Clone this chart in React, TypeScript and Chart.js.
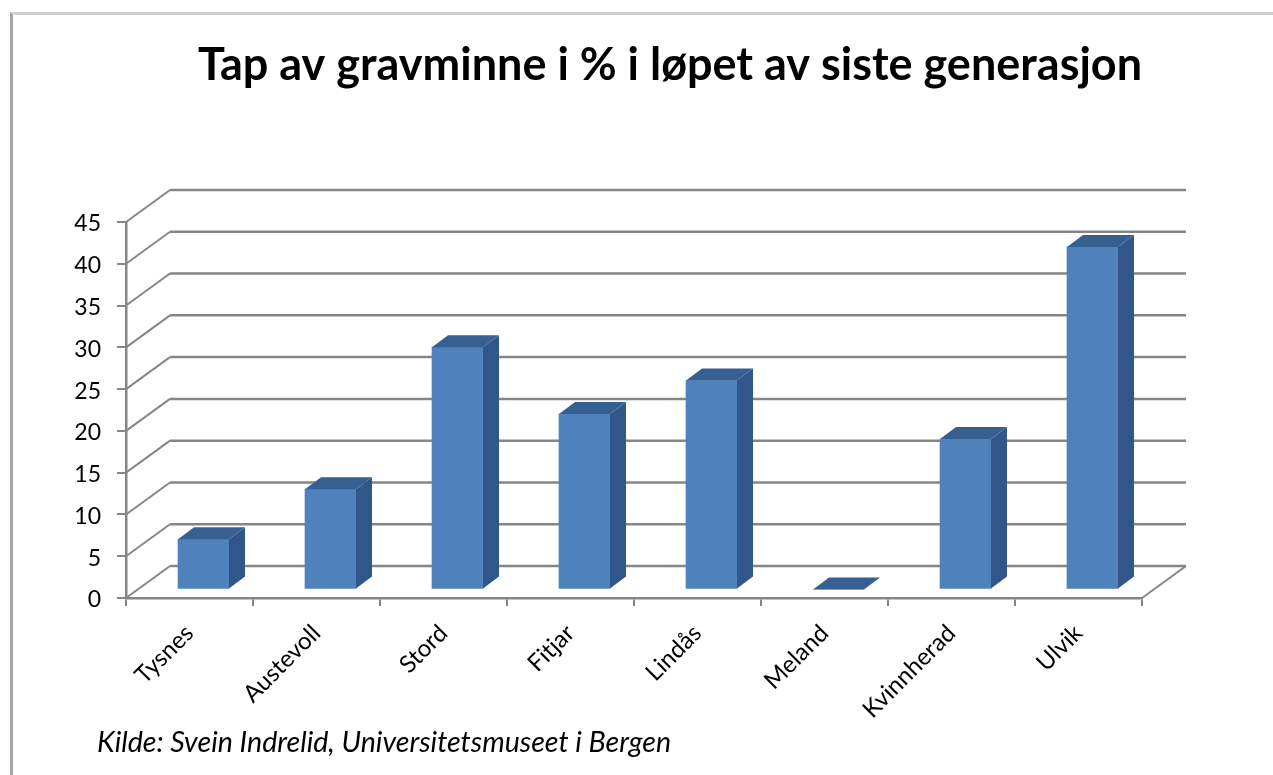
import React, { useEffect, useRef } from "react";
import { Chart, registerables } from "chart.js";

Chart.register(...registerables);

const categories = ["Tysnes", "Austevoll", "Stord", "Fitjar", "Lindås", "Meland", "Kvinnherad", "Ulvik"];
const lossPercent = [6, 12, 29, 21, 25, 0, 18, 41];
const titleText = "Tap av gravminne i % i løpet av siste generasjon";
const sourceText = "Kilde: Svein Indrelid, Universitetsmuseet i Bergen";

const GRID = "#868686";
const FRONT = "#4F81BD";
const SIDE = "#31568A";
const TOP = "#376092";
const WALL_DX = 44;
const WALL_DY = -32;
const BAR_DX = 14;
const BAR_DY = -8.5;
const DEPTH_DX = 16;
const DEPTH_DY = -12;

const poly = (ctx: CanvasRenderingContext2D, pts: number[][], fill: string) => {
  ctx.beginPath();
  pts.forEach((p, i) => (i ? ctx.lineTo(p[0], p[1]) : ctx.moveTo(p[0], p[1])));
  ctx.closePath();
  ctx.fillStyle = fill;
  ctx.fill();
};

const threeD = {
  id: "threeD",
  afterLayout(chart: any) {
    if (chart.titleBlock) {
      chart.titleBlock.left += 99;
      chart.titleBlock.right += 99;
    }
  },
  beforeDatasetsDraw(chart: any) {
    const { ctx, scales } = chart;
    const { x, y } = scales;
    ctx.save();
    ctx.strokeStyle = GRID;
    y.ticks.forEach((t: any) => {
      const py = y.getPixelForValue(t.value);
      ctx.lineWidth = 2;
      ctx.beginPath();
      ctx.moveTo(x.left, py);
      ctx.lineTo(x.left + WALL_DX, py + WALL_DY);
      ctx.stroke();
      ctx.lineWidth = 2.5;
      ctx.beginPath();
      ctx.moveTo(x.left + WALL_DX, py + WALL_DY);
      ctx.lineTo(x.right + WALL_DX, py + WALL_DY);
      ctx.stroke();
    });
    const py0 = y.getPixelForValue(0);
    ctx.lineWidth = 2;
    ctx.beginPath();
    ctx.moveTo(x.right, py0);
    ctx.lineTo(x.right + WALL_DX, py0 + WALL_DY);
    ctx.stroke();
    ctx.restore();
    ctx.save();
    ctx.translate(BAR_DX, BAR_DY);
  },
  afterDatasetsDraw(chart: any) {
    const { ctx } = chart;
    chart.getDatasetMeta(0).data.forEach((bar: any) => {
      const { x, y, base, width } = bar.getProps(["x", "y", "base", "width"], true);
      const l = x - width / 2;
      const r = x + width / 2;
      poly(ctx, [[r, y], [r + DEPTH_DX, y + DEPTH_DY], [r + DEPTH_DX, base + DEPTH_DY], [r, base]], SIDE);
      poly(ctx, [[l, y], [l + DEPTH_DX, y + DEPTH_DY], [r + DEPTH_DX, y + DEPTH_DY], [r, y]], TOP);
    });
    ctx.restore();
  },
};

export default function App() {
  const ref = useRef<HTMLCanvasElement>(null);

  useEffect(() => {
    const chart = new Chart(ref.current!, {
      type: "bar",
      data: {
        labels: categories,
        datasets: [{ data: lossPercent, backgroundColor: FRONT, barThickness: 51 }],
      },
      options: {
        responsive: false,
        animation: false,
        layout: { padding: { left: 0, right: 131, top: 0, bottom: 0 } },
        plugins: {
          legend: { display: false },
          tooltip: { enabled: false },
          title: {
            display: true,
            text: titleText,
            color: "#000000",
            font: { family: "Lato", size: 45, weight: "bold", lineHeight: 1.2 },
            padding: { top: 38, bottom: 130 },
          },
        },
        scales: {
          x: {
            grid: { drawOnChartArea: false, color: GRID, lineWidth: 2, tickLength: 8 },
            border: { color: GRID, width: 2.5 },
            ticks: {
              color: "#000000",
              font: { family: "Lato", size: 24 },
              minRotation: 45,
              maxRotation: 45,
              autoSkip: false,
              padding: 13,
            },
            afterFit: (s: any) => {
              s.height = 177;
            },
          },
          y: {
            min: 0,
            max: 45,
            grid: { drawOnChartArea: false, color: GRID, lineWidth: 2, tickLength: 9 },
            border: { color: GRID, width: 2.5 },
            ticks: {
              stepSize: 5,
              color: "#000000",
              font: { family: "Lato", size: 23 },
              padding: 16,
              labelOffset: 2,
            },
            afterFit: (s: any) => {
              s.width = 126;
            },
          },
        },
      },
      plugins: [threeD],
    } as any);
    return () => chart.destroy();
  }, []);

  return (
    <div style={{ position: "absolute", left: 0, top: 0, width: 1273, height: 775, overflow: "hidden", background: "#fff" }}>
      <canvas ref={ref} width={1273} height={775} style={{ position: "absolute", left: 0, top: 0 }} />
      <div
        style={{
          position: "absolute",
          left: 10,
          top: 12,
          width: 1263,
          height: 763,
          boxSizing: "border-box",
          borderLeft: "3px solid #a6a6a6",
          borderTop: "3px solid #d0d0d0",
          pointerEvents: "none",
        }}
      />
      <div
        style={{
          position: "absolute",
          left: 97,
          top: 725,
          font: "italic 28.6px Lato",
          lineHeight: "32px",
          color: "#000",
          whiteSpace: "nowrap",
        }}
      >
        {sourceText}
      </div>
    </div>
  );
}
